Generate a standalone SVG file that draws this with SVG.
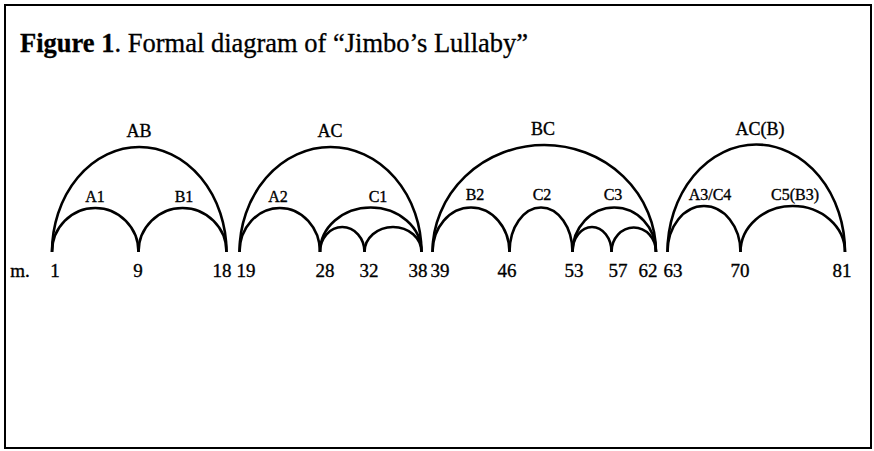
<svg xmlns="http://www.w3.org/2000/svg" width="874" height="451" viewBox="0 0 874 451">
<style>
.arc{fill:none;stroke:#000;stroke-width:2.6}
.lbl{font-family:"Liberation Serif","Times New Roman",serif;font-size:16px;text-anchor:middle;fill:#000;stroke:#000;stroke-width:0.35}
.big{font-family:"Liberation Serif","Times New Roman",serif;font-size:18px;text-anchor:middle;fill:#000;stroke:#000;stroke-width:0.35}
.num{font-family:"Liberation Serif","Times New Roman",serif;font-size:19px;text-anchor:middle;fill:#000;stroke:#000;stroke-width:0.35}
.title{font-family:"Liberation Serif","Times New Roman",serif;font-size:26.5px;fill:#000;stroke:#000;stroke-width:0.3}
</style>
<rect x="5" y="5" width="866" height="443" fill="#fff" stroke="#000" stroke-width="2"/>
<text class="title" x="20" y="52"><tspan font-weight="bold">Figure 1</tspan>. Formal diagram of “Jimbo’s Lullaby”</text>
<g id="AB"><path class="arc" d="M52 252 A87.25 105 0 0 1 226.5 252"/><text class="big" x="139" y="137">AB</text></g>
<g id="A1"><path class="arc" d="M52 252 A43.25 44 0 0 1 138.5 252"/><text class="lbl" x="95" y="202">A1</text></g>
<g id="B1"><path class="arc" d="M138.5 252 A44 44 0 0 1 226.5 252"/><text class="lbl" x="184" y="202">B1</text></g>
<g id="AC"><path class="arc" d="M239.5 252 A91 105 0 0 1 421.5 252"/><text class="big" x="330" y="137">AC</text></g>
<g id="A2"><path class="arc" d="M239.5 252 A40.25 44 0 0 1 320 252"/><text class="lbl" x="278" y="202">A2</text></g>
<g id="C1"><path class="arc" d="M320 252 A50.75 44.5 0 0 1 421.5 252"/><text class="lbl" x="378" y="202">C1</text></g>
<g id="C1a"><path class="arc" d="M320 252 A22.25 25 0 0 1 364.5 252"/></g>
<g id="C1b"><path class="arc" d="M364.5 252 A28.5 25 0 0 1 421.5 252"/></g>
<g id="BC"><path class="arc" d="M432.5 252 A111.75 107 0 0 1 656 252"/><text class="big" x="543" y="135">BC</text></g>
<g id="B2"><path class="arc" d="M432.5 252 A38.5 44.5 0 0 1 509.5 252"/><text class="lbl" x="475" y="200">B2</text></g>
<g id="C2"><path class="arc" d="M509.5 252 A31.5 44.5 0 0 1 572.5 252"/><text class="lbl" x="542" y="200">C2</text></g>
<g id="C3"><path class="arc" d="M572.5 252 A41.75 44.5 0 0 1 656 252"/><text class="lbl" x="613" y="200">C3</text></g>
<g id="C3a"><path class="arc" d="M572.5 252 A19.5 25 0 0 1 611.5 252"/></g>
<g id="C3b"><path class="arc" d="M611.5 252 A22.25 24.5 0 0 1 656 252"/></g>
<g id="ACB"><path class="arc" d="M667.5 252 A88.75 107.5 0 0 1 845 252"/><text class="big" x="760" y="135">AC(B)</text></g>
<g id="A3C4"><path class="arc" d="M667.5 252 A36.5 46 0 0 1 740.5 252"/><text class="lbl" x="710" y="200">A3/C4</text></g>
<g id="C5B3"><path class="arc" d="M740.5 252 A52.25 46 0 0 1 845 252"/><text class="lbl" x="795" y="200">C5(B3)</text></g>
<g id="measures">
<text class="num" x="20" y="277" text-anchor="start">m.</text>
<text class="num" x="55" y="277">1</text>
<text class="num" x="138" y="277">9</text>
<text class="num" x="222" y="277">18</text>
<text class="num" x="246" y="277">19</text>
<text class="num" x="325" y="277">28</text>
<text class="num" x="369" y="277">32</text>
<text class="num" x="418" y="277">38</text>
<text class="num" x="440" y="277">39</text>
<text class="num" x="507" y="277">46</text>
<text class="num" x="574" y="277">53</text>
<text class="num" x="618" y="277">57</text>
<text class="num" x="648" y="277">62</text>
<text class="num" x="673" y="277">63</text>
<text class="num" x="740" y="277">70</text>
<text class="num" x="842" y="277">81</text>
</g>
<g id="connectors"></g>
</svg>
